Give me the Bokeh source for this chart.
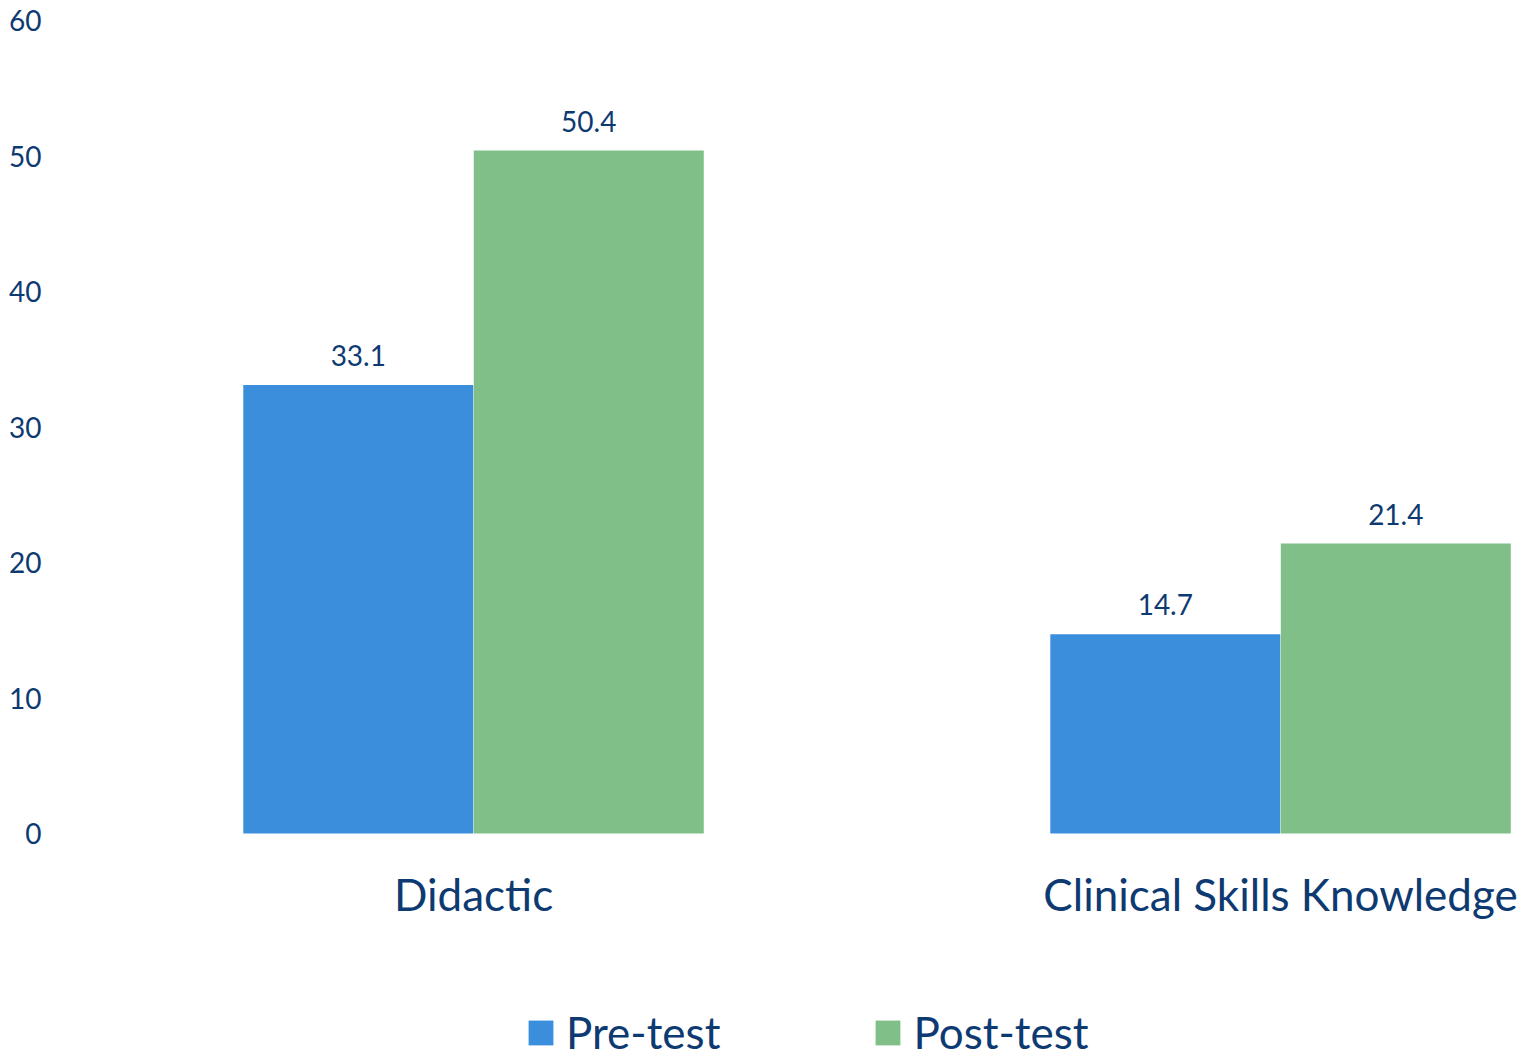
from bokeh.plotting import figure
from bokeh.models import Range1d, FixedTicker, ColumnDataSource, Legend, LegendItem, LabelSet
from bokeh.core.properties import value
from bokeh.embed import file_html
from bokeh.resources import INLINE

categories = ["Didactic", "Clinical Skills Knowledge"]
series = ["Pre-test", "Post-test"]
pre_values = [33.1, 14.7]
post_values = [50.4, 21.4]
y_ticks = [0, 10, 20, 30, 40, 50, 60]

colors = ["#3A8EDB", "#80BF88"]
text_color = "#0E3A72"
font = "Lato"

p = figure(width=1527, height=1058, output_backend="svg", toolbar_location=None,
           x_range=Range1d(-0.518, 1.306), y_range=Range1d(-16.6, 60.74),
           min_border_left=55, min_border_right=0, min_border_top=10, min_border_bottom=0)

bar_w = 0.285
offsets = [-0.1428, 0.1428]
renderers = []
for s, vals, off, col in zip(series, [pre_values, post_values], offsets, colors):
    src = ColumnDataSource(dict(x=[i + off for i in range(len(categories))], top=vals,
                                lab=[f"{v:.1f}" for v in vals]))
    r = p.vbar(x="x", top="top", bottom=0, width=bar_w, source=src, fill_color=col, line_color=None)
    renderers.append(r)
    p.add_layout(LabelSet(x="x", y="top", text="lab", source=src, text_align="center",
                          text_baseline="alphabetic", y_offset=19, text_font=value(font),
                          text_font_size="28px", text_color=text_color))

# category labels under the groups
cat_src = ColumnDataSource(dict(x=list(range(len(categories))), y=[0] * len(categories), lab=categories))
p.add_layout(LabelSet(x="x", y="y", text="lab", source=cat_src, text_align="center",
                      text_baseline="middle", y_offset=-60, text_font=value(font),
                      text_font_size="44px", text_color=text_color))

p.xgrid.visible = False
p.ygrid.visible = False
p.outline_line_color = None
p.xaxis.visible = False

p.yaxis.ticker = FixedTicker(ticks=y_ticks)
p.yaxis.axis_line_color = None
p.yaxis.major_tick_line_color = None
p.yaxis.minor_tick_line_color = None
p.yaxis.major_label_text_font = font
p.yaxis.major_label_text_font_size = "28px"
p.yaxis.major_label_text_color = text_color
p.yaxis.major_label_standoff = 8

legend = Legend(items=[LegendItem(label=s, renderers=[r]) for s, r in zip(series, renderers)],
                orientation="horizontal", location=(470, 0), border_line_color=None,
                background_fill_alpha=0, glyph_width=31, glyph_height=31,
                label_text_font=font, label_text_font_size="44px", label_text_color=text_color,
                label_standoff=10, spacing=152, padding=0, margin=0)
p.add_layout(legend, "center")

open("out.html", "w").write(file_html(p, INLINE))
